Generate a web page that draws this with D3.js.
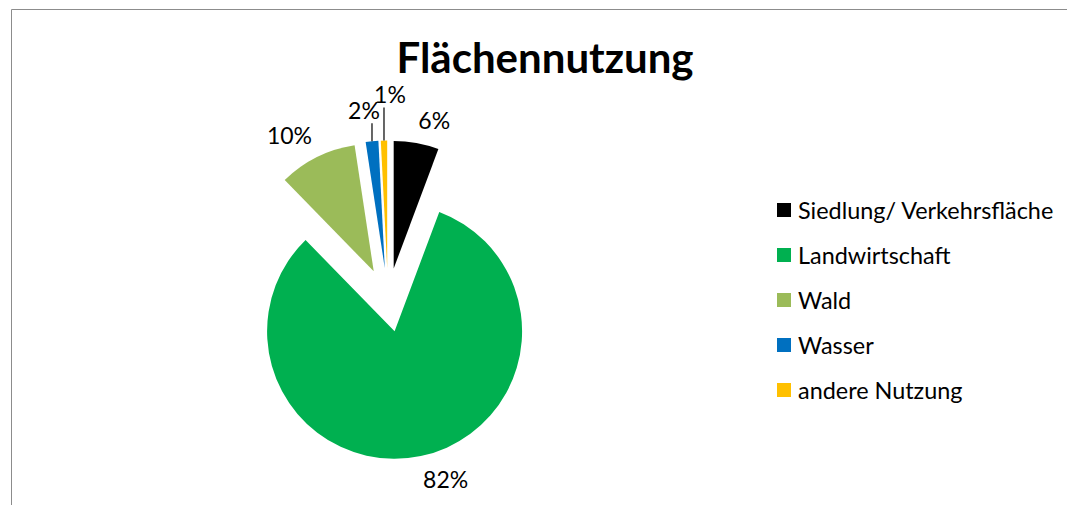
<!DOCTYPE html>
<html>
<head>
<meta charset="utf-8">
<script src="https://cdn.jsdelivr.net/npm/d3@7"></script>
<style>
  body { margin: 0; background: #fff; }
  text { font-family: Lato, "Open Sans", sans-serif; fill: #000; }
</style>
</head>
<body>
<svg id="chart" width="1067" height="505"></svg>
<script>
// Flächennutzung – explodierter Kreis
const categories = ["Siedlung/ Verkehrsfläche", "Landwirtschaft", "Wald", "Wasser", "andere Nutzung"];
const shares = [5.7, 82.0, 9.9, 1.6, 0.8];
const colors = ["#000000", "#00B050", "#9BBB59", "#0070C0", "#FFC000"];

const width = 1067, height = 505;
const cx = 388, cy = 300;      // Mitte des (nicht explodierten) Kreises
const radius = 127.5;
const explode = 32;            // Versatz jedes Segments nach außen
const labelGap = 11;
const labelSize = 23;

// Führungslinien für die kleinen Segmente (Beschriftung nach oben versetzt)
const leaders = {
  "Wasser": { lift: 18, dx: -8 },
  "andere Nutzung": { lift: 33, dx: 6 }
};

const data = categories.map((c, i) => ({ name: c, value: shares[i], color: colors[i] }));

const svg = d3.select("#chart");

// Rahmen des Diagrammbereichs
svg.append("path")
  .attr("d", `M11.5,${height} V9.5 H${width}`)
  .attr("fill", "none")
  .attr("stroke", "#8c8c8c")
  .attr("stroke-width", 1);

// Titel
svg.append("text")
  .attr("x", 545)
  .attr("y", 73)
  .attr("text-anchor", "middle")
  .attr("font-size", 42)
  .attr("font-weight", "bold")
  .text("Flächennutzung");

const pie = d3.pie().sort(null).value(d => d.value);
const arcs = pie(data);
const arc = d3.arc().innerRadius(0).outerRadius(radius);

const g = svg.append("g").attr("transform", `translate(${cx},${cy})`);

// Verschiebung eines Segments entlang seines mittleren Winkels
const offset = (d, r) => {
  const a = (d.startAngle + d.endAngle) / 2;
  return [Math.sin(a) * r, -Math.cos(a) * r];
};

g.selectAll("path.slice")
  .data(arcs)
  .join("path")
  .attr("class", "slice")
  .attr("fill", d => d.data.color)
  .attr("d", arc)
  .attr("transform", d => {
    const [dx, dy] = offset(d, explode);
    return `translate(${dx},${dy})`;
  });

// Beschriftungen
const labelG = g.append("g");
arcs.forEach(d => {
  const [ex, ey] = offset(d, explode);
  const a = (d.startAngle + d.endAngle) / 2;
  const txt = labelG.append("text")
    .attr("font-size", labelSize)
    .attr("text-anchor", "middle")
    .attr("dominant-baseline", "central")
    .text(Math.round(d.value) + "%");
  const w = txt.node().getComputedTextLength();
  const h = labelSize * 1.1;
  const lead = leaders[d.data.name];
  if (lead) {
    const [px, py] = offset(d, radius);
    const x0 = ex + px, y0 = ey + py;
    labelG.append("line")
      .attr("x1", x0).attr("y1", y0)
      .attr("x2", x0).attr("y2", y0 - lead.lift)
      .attr("stroke", "#000")
      .attr("stroke-width", 1.2);
    txt.attr("x", x0 + lead.dx).attr("y", y0 - lead.lift - h / 2 - 1);
  } else {
    const [px, py] = offset(d, radius + labelGap);
    const x = ex + px + (Math.sin(a) >= 0 ? w / 2 : -w / 2);
    const y = ey + py + (Math.cos(a) >= 0 ? -h / 2 : h / 2);
    txt.attr("x", x).attr("y", y);
  }
});

// Legende
const legend = svg.append("g").attr("transform", "translate(777,210)");
const rows = legend.selectAll("g")
  .data(data)
  .join("g")
  .attr("transform", (d, i) => `translate(0,${i * 45})`);
rows.append("rect")
  .attr("x", 0).attr("y", -7)
  .attr("width", 14).attr("height", 14)
  .attr("fill", d => d.color);
rows.append("text")
  .attr("x", 21)
  .attr("y", 0)
  .attr("dominant-baseline", "central")
  .attr("font-size", 23.4)
  .text(d => d.name);
</script>
</body>
</html>
